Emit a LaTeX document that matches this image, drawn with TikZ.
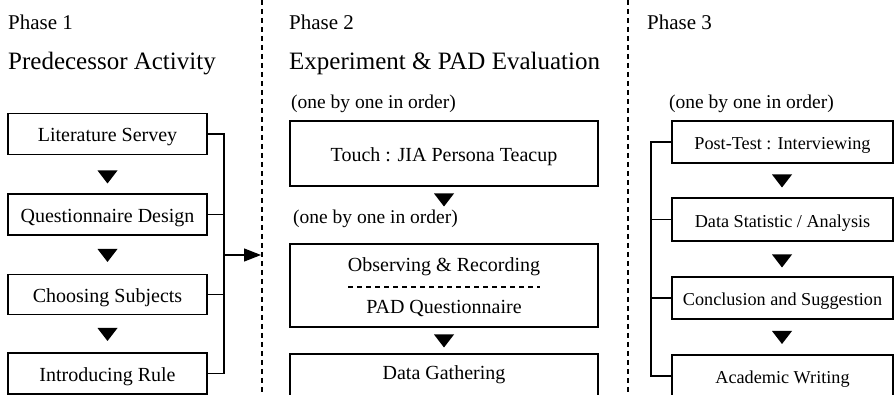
\documentclass[tikz,border=0pt]{standalone}
\usepackage{fontspec}
\setmainfont{Liberation Serif}
\usetikzlibrary{arrows.meta}
\tikzstyle{stepbox} = [rectangle, draw=black, line width=1.3pt, inner sep=0pt, text height=20pt, text depth=4pt, font=\fontsize{20}{24}\selectfont]
\tikzstyle{smallbox} = [stepbox, font=\fontsize{18.2}{22}\selectfont]
\tikzstyle{phaselabel} = [anchor=base west, inner sep=0pt, font=\fontsize{21}{25}\selectfont]
\tikzstyle{phasetitle} = [anchor=base west, inner sep=0pt, font=\fontsize{25}{30}\selectfont]
\tikzstyle{note} = [anchor=base west, inner sep=0pt, font=\fontsize{19.5}{24}\selectfont]
\tikzstyle{divider} = [line width=1.4pt, dash pattern=on 5pt off 4pt]
\tikzstyle{link} = [line width=1.3pt]
\tikzstyle{arrow} = [line width=1.3pt, -{Triangle[length=17pt,width=13pt]}]
\newcommand{\downtri}[2]{\fill (#1-10,#2-6.5) -- (#1+10,#2-6.5) -- (#1,#2+6.5) -- cycle;}

\begin{document}
\begin{tikzpicture}[x=1pt, y=-1pt]
\useasboundingbox (0,0) rectangle (895,395);

% dividers
\draw[divider] (262,0) -- (262,395);
\draw[divider] (628,0) -- (628,395);

% headers
\node (ph1) [phaselabel] at (8,30) {Phase 1};
\node (ph1t) [phasetitle] at (8,70) {Predecessor Activity};
\node (ph2) [phaselabel] at (289,30) {Phase 2};
\node (ph2t) [phasetitle] at (289,70) {Experiment \& PAD Evaluation};
\node (ph3) [phaselabel] at (647,30) {Phase 3};

% phase 1
\node (lit) [stepbox, minimum width=199, minimum height=41] at (107.5,134) {Literature Servey};
\node (quest) [stepbox, minimum width=199, minimum height=41] at (107.5,214.5) {Questionnaire Design};
\node (choose) [stepbox, minimum width=199, minimum height=40] at (107.5,294.5) {Choosing Subjects};
\node (rule) [stepbox, minimum width=199, minimum height=41] at (107.5,373.5) {Introducing Rule};
\downtri{107.5}{177}
\downtri{107.5}{255.5}
\downtri{107.5}{334.5}

\coordinate (bus1) at (224,255);
\coordinate (div1) at (261,255);
\draw[link] (lit.east) -- (lit.east -| bus1) -- (rule.east -| bus1) -- (rule.east);
\draw[link] (quest.east) -- (quest.east -| bus1);
\draw[link] (choose.east) -- (choose.east -| bus1);
\draw[arrow] (bus1) -- (div1);

% phase 2
\node (ord1) [note] at (291,109) {(one by one in order)};
\node (touch) [stepbox, minimum width=308, minimum height=65] at (444,153.5) {Touch : JIA Persona Teacup};
\downtri{444}{200}
\node (ord2) [note] at (293,224) {(one by one in order)};
\node (obs) [stepbox, minimum width=308, minimum height=83] at (444,285.5) {};
\node (obstxt) [stepbox, draw=none] at (444,264) {Observing \& Recording};
\node (padq) [stepbox, draw=none] at (444,306) {PAD Questionnaire};
\draw[divider, line width=1.2pt] (348,287) -- (540,287);
\downtri{444}{341}
\node (gather) [stepbox, line width=2pt, text depth=12pt, minimum width=308, minimum height=44] at (444,376) {Data Gathering};

% phase 3
\node (ord3) [note] at (669,109) {(one by one in order)};
\node (post) [smallbox, minimum width=221, minimum height=42] at (782.5,142) {Post-Test : Interviewing};
\node (stat) [smallbox, minimum width=221, minimum height=43] at (782.5,219.5) {Data Statistic / Analysis};
\node (concl) [smallbox, minimum width=221, minimum height=42] at (782.5,298) {Conclusion and Suggestion};
\node (write) [smallbox, minimum width=221, minimum height=42] at (782.5,376) {Academic Writing};
\downtri{782}{181}
\downtri{782}{261}
\downtri{782}{337.5}

\coordinate (bus3) at (651,142);
\draw[link] (post.west) -- (post.west -| bus3) -- (write.west -| bus3) -- (write.west);
\draw[link] (stat.west) -- (stat.west -| bus3);
\draw[link] (concl.west) -- (concl.west -| bus3);
\end{tikzpicture}
\end{document}
